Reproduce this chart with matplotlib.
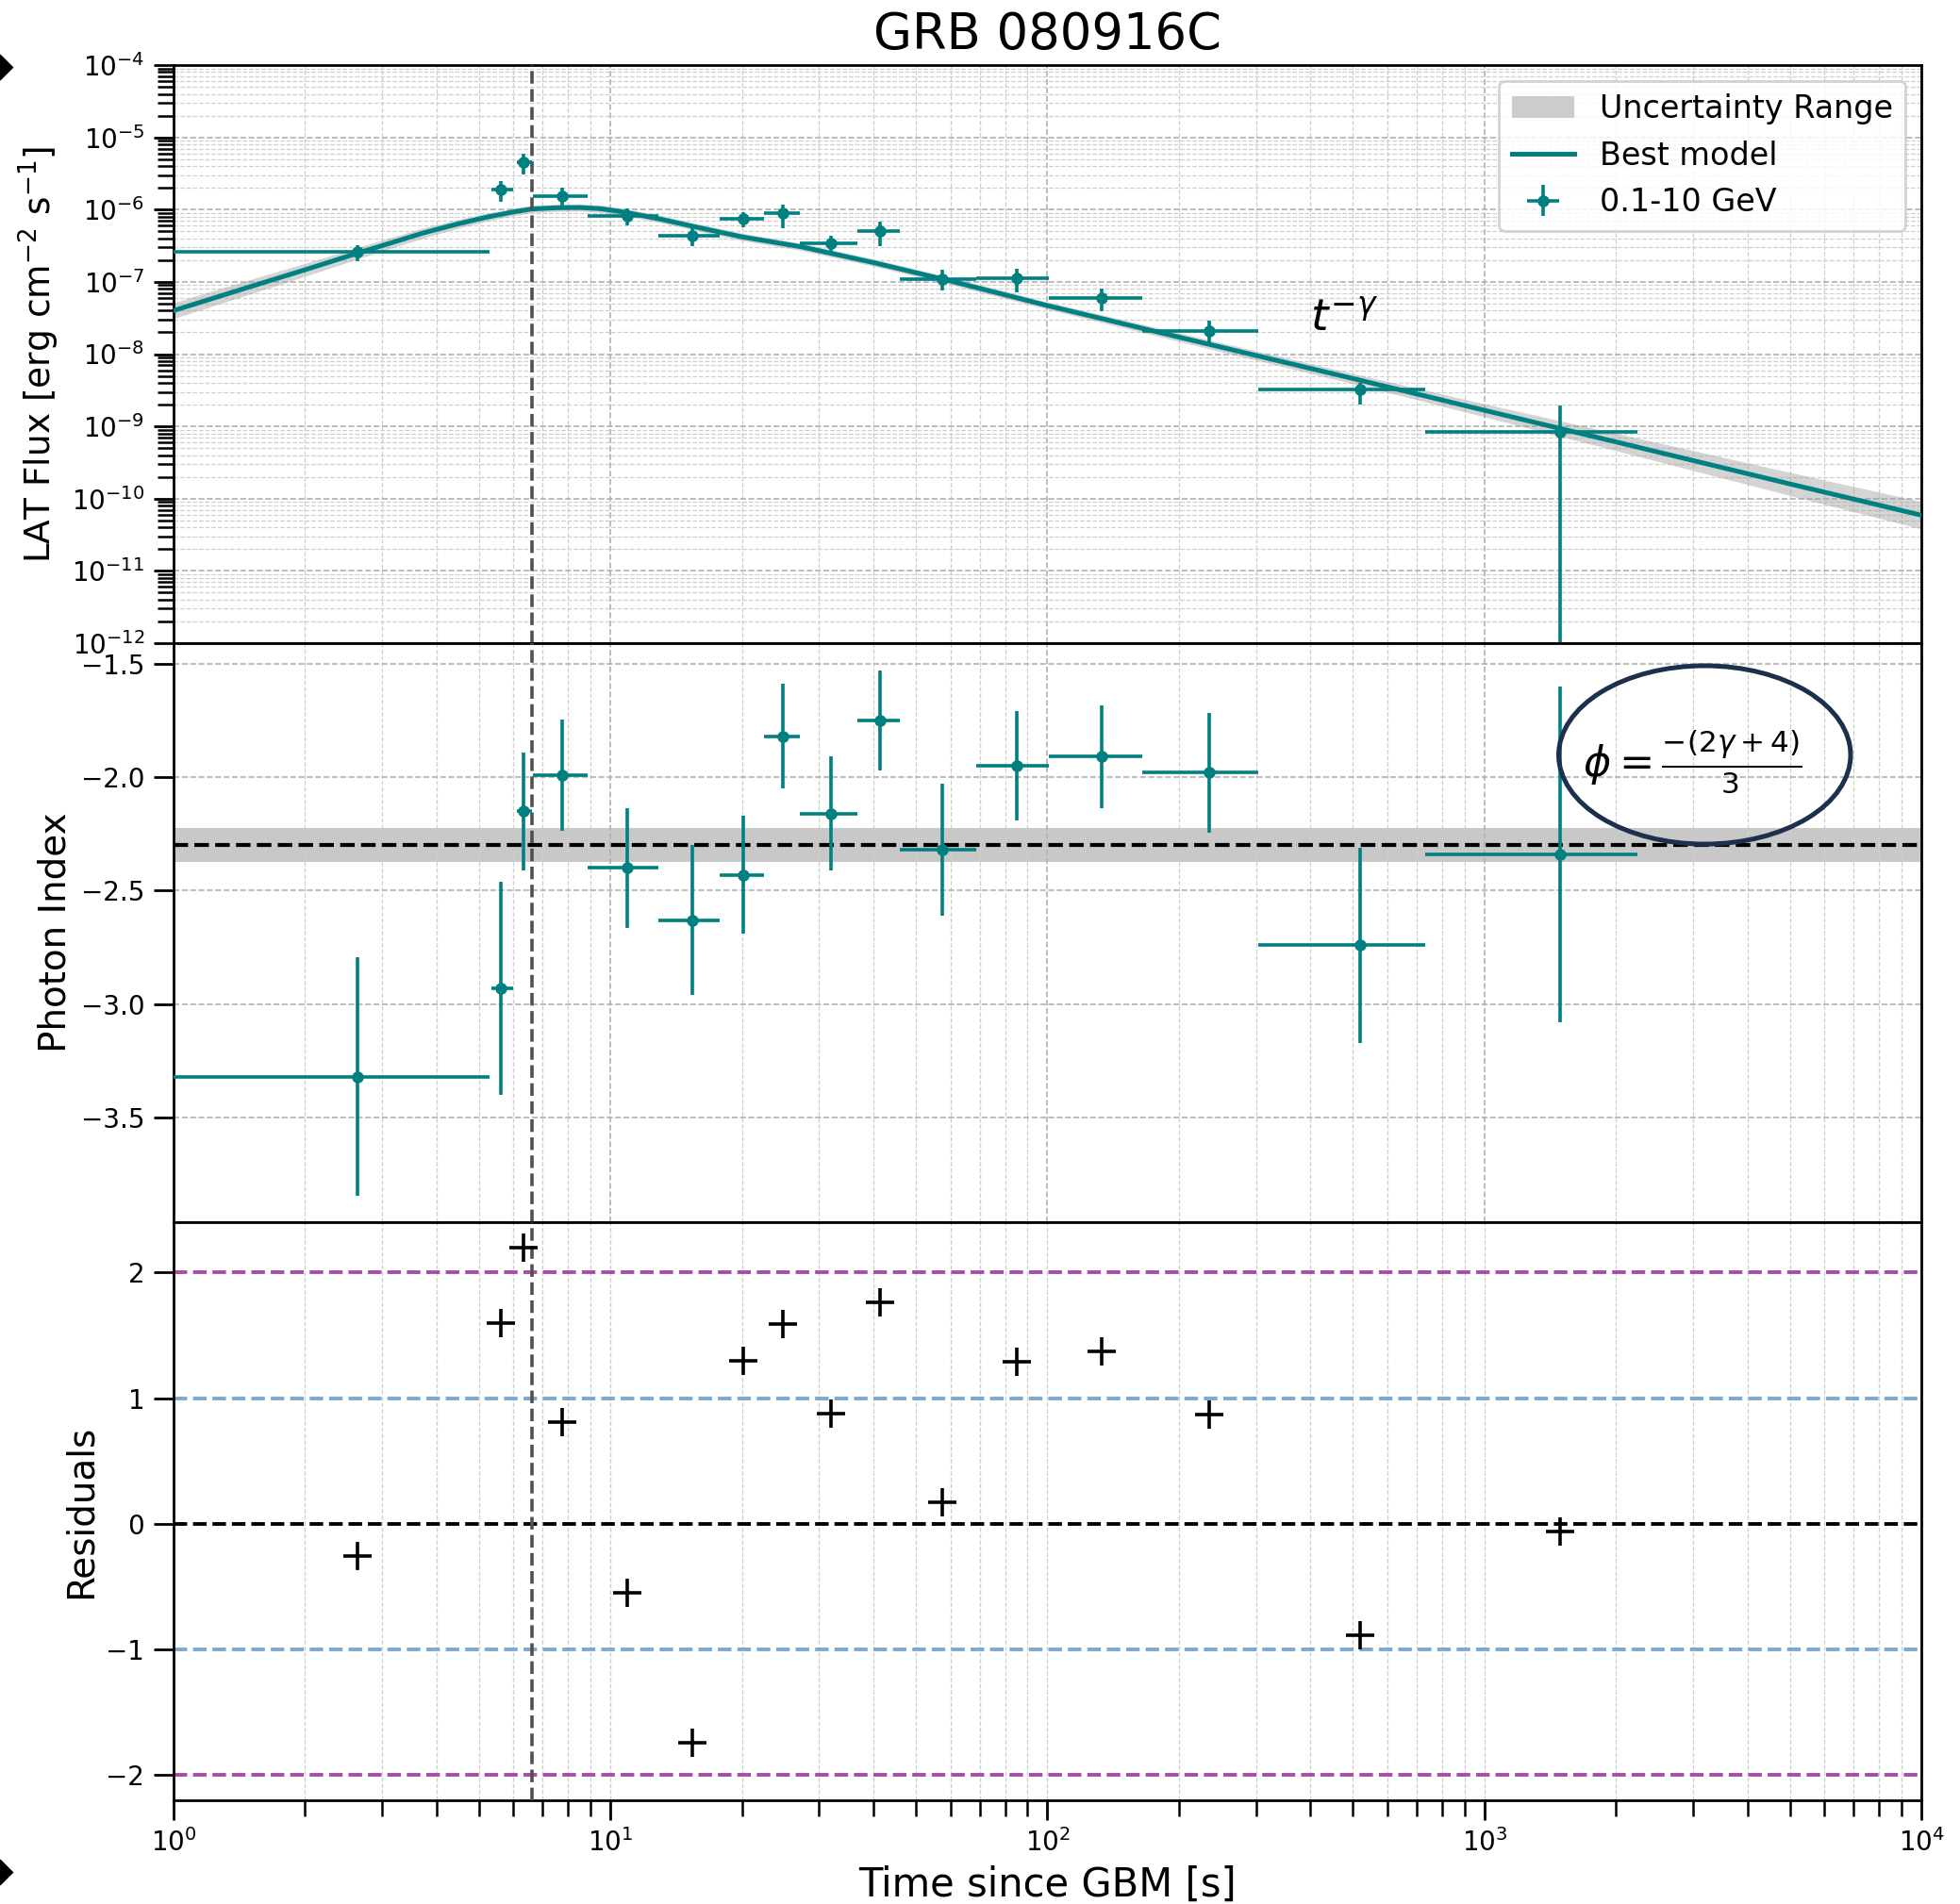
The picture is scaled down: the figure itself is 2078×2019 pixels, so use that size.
import numpy as np
import matplotlib
matplotlib.use("Agg")
import matplotlib.pyplot as plt
from matplotlib.patches import Ellipse, Patch
from matplotlib.lines import Line2D
from matplotlib.ticker import LogLocator, NullFormatter

# LAT time bins [s]
t_pt = [2.64, 5.62, 6.33, 7.76, 10.9, 15.4, 20.1, 24.8, 32.0, 41.3, 57.5, 85.2, 133, 234, 519, 1493]
t_start = [1.0, 5.35, 6.1, 6.65, 8.85, 12.9, 17.8, 22.5, 27.1, 36.8, 45.9, 68.8, 101, 165, 304, 732]
t_stop = [5.3, 6.0, 6.6, 8.85, 12.9, 17.8, 22.5, 27.1, 36.8, 45.9, 68.8, 101, 165, 304, 732, 2245]

# 0.1-10 GeV flux [erg cm-2 s-1]
flux = [2.6e-7, 1.89e-6, 4.5e-6, 1.53e-6, 8.15e-7, 4.34e-7, 7.44e-7, 8.9e-7,
        3.45e-7, 5.1e-7, 1.10e-7, 1.13e-7, 6.0e-8, 2.07e-8, 3.23e-9, 8.45e-10]
flux_lo = [1.95e-7, 1.30e-6, 3.03e-6, 1.11e-6, 6.07e-7, 3.11e-7, 5.7e-7, 5.5e-7,
           2.64e-7, 3.1e-7, 7.6e-8, 7.1e-8, 3.9e-8, 1.37e-8, 2.02e-9, 1e-13]
flux_hi = [3.2e-7, 2.48e-6, 5.93e-6, 2.03e-6, 1.04e-6, 5.69e-7, 9.3e-7, 1.19e-6,
           4.34e-7, 6.9e-7, 1.48e-7, 1.54e-7, 8.1e-8, 2.88e-8, 4.06e-9, 1.97e-9]

# photon index
index = [-3.32, -2.93, -2.15, -1.99, -2.40, -2.63, -2.43, -1.82,
         -2.16, -1.75, -2.32, -1.95, -1.91, -1.98, -2.74, -2.34]
index_err = [0.525, 0.47, 0.26, 0.245, 0.265, 0.33, 0.26, 0.23,
             0.25, 0.22, 0.29, 0.24, 0.227, 0.263, 0.43, 0.74]
index_fit = -2.30
index_fit_lo = -2.375
index_fit_hi = -2.226

# residuals
resid = [-0.26, 1.60, 2.20, 0.81, -0.55, -1.74, 1.30, 1.59,
         0.88, 1.76, 0.17, 1.29, 1.37, 0.87, -0.89, -0.06]

# best model, with band half-width in dex
model_t = [1, 1.5, 2, 2.64, 3.75, 4.5, 5.23, 6, 6.6, 7.5, 8.5, 9.5, 10.8, 13,
           16, 20, 27.4, 40, 60, 100, 200, 500, 1000, 2000, 5000, 10000]
model_f = [4.0e-8, 8.6e-8, 1.47e-7, 2.5e-7, 4.8e-7, 6.4e-7, 7.9e-7, 9.3e-7,
           1.02e-6, 1.06e-6, 1.07e-6, 1.03e-6, 9.2e-7, 7.4e-7, 5.6e-7, 4.2e-7,
           3.05e-7, 1.85e-7, 1.03e-7, 4.7e-8, 1.72e-8, 4.6e-9, 1.67e-9, 6.1e-10,
           1.6e-10, 5.9e-11]
band_dex = [0.11, 0.10, 0.09, 0.08, 0.07, 0.06, 0.055, 0.05, 0.05, 0.05, 0.05,
            0.05, 0.05, 0.05, 0.05, 0.05, 0.05, 0.05, 0.05, 0.05, 0.06, 0.07,
            0.09, 0.12, 0.16, 0.19]

t_break = 6.6
teal = "#008080"

t_pt = np.array(t_pt)
xerr = [t_pt - np.array(t_start), np.array(t_stop) - t_pt]
flux = np.array(flux)
yerr_flux = [flux - np.array(flux_lo), np.array(flux_hi) - flux]
model_f = np.array(model_f)
band_lo = model_f * 10 ** (-np.array(band_dex))
band_hi = model_f * 10 ** np.array(band_dex)

fig = plt.figure(figsize=(10.39, 10.095), dpi=200)
L, W = 0.0885, 0.8918
ax1 = fig.add_axes([L, 0.6622, W, 0.3036])
ax2 = fig.add_axes([L, 0.3581, W, 0.3041], sharex=ax1)
ax3 = fig.add_axes([L, 0.0545, W, 0.3036], sharex=ax1)

for ax in (ax1, ax2, ax3):
    ax.set_xscale("log")
    for s in ax.spines.values():
        s.set_linewidth(1.0)
    ax.tick_params(which="major", length=7.5, width=1.0, labelsize=10)
    ax.tick_params(which="minor", length=6, width=0.9)
    ax.axvline(t_break, color="#505050", ls="--", lw=1.3, zorder=4)

ax1.set_xlim(1, 1e4)
ax1.xaxis.set_major_locator(LogLocator(base=10, numticks=10))
ax1.xaxis.set_minor_locator(LogLocator(base=10, subs=np.arange(2, 10), numticks=50))
ax1.xaxis.set_minor_formatter(NullFormatter())

# --- flux panel
ax1.set_yscale("log")
ax1.set_ylim(1e-12, 1e-4)
ax1.yaxis.set_major_locator(LogLocator(base=10, numticks=20))
ax1.yaxis.set_minor_locator(LogLocator(base=10, subs=np.arange(2, 10), numticks=100))
ax1.yaxis.set_minor_formatter(NullFormatter())
ax1.grid(True, which="major", ls="--", lw=0.6, color="#b0b0b0")
ax1.grid(True, which="minor", ls="--", lw=0.45, color="#cfcfcf")
ax1.fill_between(model_t, band_lo, band_hi, color="#a0a0a0", alpha=0.45, lw=0, zorder=2)
ax1.plot(model_t, model_f, color=teal, lw=1.8, zorder=3)
ax1.errorbar(t_pt, flux, xerr=xerr, yerr=yerr_flux, fmt="o", color=teal,
             ms=3.5, elinewidth=1.3, capsize=0, zorder=5)
ax1.text(400, 2.15e-8, r"$t^{-\gamma}$", fontsize=17, va="baseline")
ax1.set_ylabel(r"LAT Flux [erg cm$^{-2}$ s$^{-1}$]", fontsize=13.5, labelpad=4)
ax1.set_title("GRB 080916C", fontsize=19, pad=6)
ax1.tick_params(axis="x", which="both", length=0, labelbottom=False)

handles = [Patch(facecolor="#cccccc", edgecolor="none"),
           Line2D([], [], color=teal, lw=1.8),
           ax1.errorbar([], [], xerr=[], yerr=[], fmt="o", color=teal, ms=3.5, elinewidth=1.3)]
ax1.legend(handles, ["Uncertainty Range", "Best model", "0.1-10 GeV"],
           loc="upper right", fontsize=12, framealpha=0.85)

# --- photon index panel
ax2.set_ylim(-3.96, -1.41)
ax2.set_yticks([-1.5, -2.0, -2.5, -3.0, -3.5])
ax2.grid(True, which="major", ls="--", lw=0.6, color="#b0b0b0")
ax2.grid(True, which="minor", axis="x", ls="--", lw=0.45, color="#cfcfcf")
ax2.axhspan(index_fit_lo, index_fit_hi, color="#c8c8c8", lw=0, zorder=1)
ax2.axhline(index_fit, color="k", ls="--", lw=1.5, zorder=2)
ax2.errorbar(t_pt, index, xerr=xerr, yerr=index_err, fmt="o", color=teal,
             ms=3.5, elinewidth=1.3, capsize=0, zorder=5)
ax2.set_ylabel("Photon Index", fontsize=14, labelpad=3)
ax2.tick_params(axis="x", which="both", length=0, labelbottom=False)
ell = Ellipse((0.876, 0.807), 0.167, 0.308, transform=ax2.transAxes,
              fill=False, edgecolor="#1c2f4d", lw=1.8, zorder=6)
ax2.add_patch(ell)
ax2.text(0.869, 0.794, r"$\phi = \frac{-(2\gamma + 4)}{3}$", transform=ax2.transAxes,
         fontsize=16, ha="center", va="center", zorder=7)

# --- residuals panel
ax3.set_ylim(-2.2, 2.4)
ax3.set_yticks([-2, -1, 0, 1, 2])
ax3.grid(True, which="both", axis="x", ls="--", lw=0.45, color="#cfcfcf")
for lvl, col in [(2, "#a94ca9"), (-2, "#a94ca9"), (1, "#7ea9cc"), (-1, "#7ea9cc"), (0, "k")]:
    ax3.axhline(lvl, color=col, ls="--", lw=1.4, zorder=2)
ax3.plot(t_pt, resid, "k+", ms=11, mew=1.3, zorder=5)
ax3.set_ylabel("Residuals", fontsize=14, labelpad=3)
ax3.set_xlabel("Time since GBM [s]", fontsize=15, labelpad=3)

# cropped markers at the left border of the original screenshot
for yf in (1 - 71 / 2019, 1 - 1985 / 2019):
    fig.add_artist(Line2D([0.0], [yf], marker="D", ms=6, color="k", transform=fig.transFigure))

fig.savefig("out.png", dpi=200)
